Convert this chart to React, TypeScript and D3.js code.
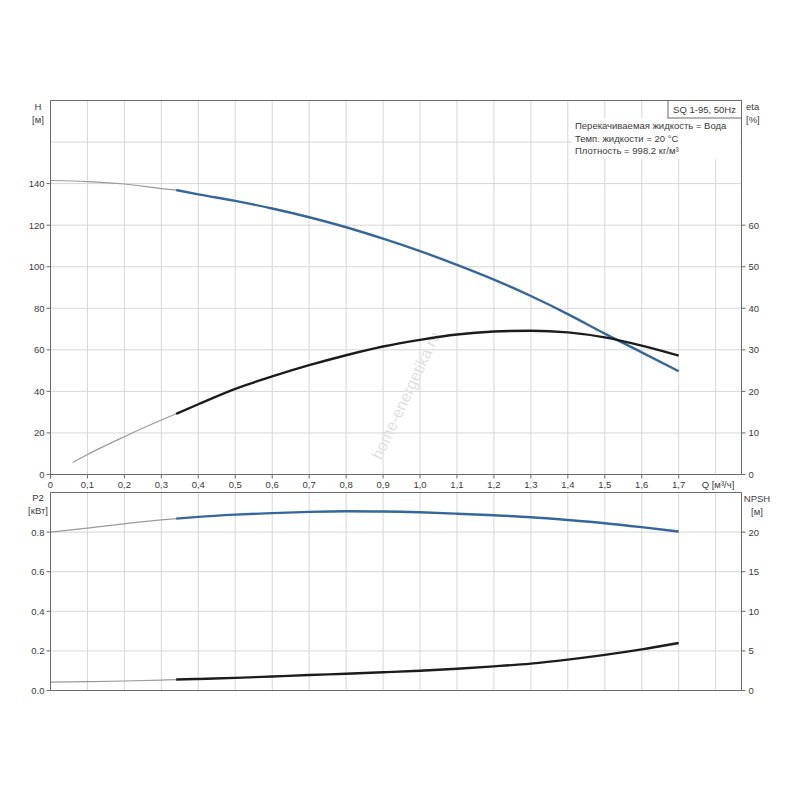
import React from "react";
import { scaleLinear, line, curveMonotoneX } from "d3";

// flow, m3/h
const qH = [0, 0.1, 0.2, 0.3, 0.34, 0.4, 0.5, 0.6, 0.7, 0.8, 0.9, 1.0, 1.1, 1.2, 1.3, 1.4, 1.5, 1.6, 1.7];
const headH = [141.5, 141.0, 139.8, 137.6, 136.9, 134.8, 131.7, 128.0, 123.8, 119.0, 113.5, 107.5, 100.9, 93.8, 85.9, 77.2, 67.8, 58.8, 49.7];

const qEta = [0.06, 0.1, 0.2, 0.3, 0.34, 0.4, 0.5, 0.6, 0.7, 0.8, 0.9, 1.0, 1.1, 1.2, 1.3, 1.4, 1.5, 1.6, 1.7];
const eta = [2.9, 4.8, 9.1, 13.1, 14.6, 16.9, 20.6, 23.6, 26.3, 28.7, 30.8, 32.4, 33.7, 34.4, 34.6, 34.2, 33.0, 31.0, 28.6];

const qP = [0, 0.1, 0.2, 0.3, 0.34, 0.4, 0.5, 0.6, 0.7, 0.8, 0.9, 1.0, 1.1, 1.2, 1.3, 1.4, 1.5, 1.6, 1.7];
const p2 = [0.8, 0.82, 0.842, 0.862, 0.868, 0.877, 0.888, 0.896, 0.902, 0.905, 0.904, 0.9, 0.893, 0.885, 0.875, 0.861, 0.845, 0.825, 0.803];
const npsh = [1.05, 1.12, 1.2, 1.32, 1.38, 1.46, 1.6, 1.77, 1.95, 2.12, 2.3, 2.5, 2.75, 3.05, 3.4, 3.9, 4.5, 5.2, 6.0];

const qTicks = [0, 0.1, 0.2, 0.3, 0.4, 0.5, 0.6, 0.7, 0.8, 0.9, 1.0, 1.1, 1.2, 1.3, 1.4, 1.5, 1.6, 1.7];
const qGrid = [0.1, 0.2, 0.3, 0.4, 0.5, 0.6, 0.7, 0.8, 0.9, 1.0, 1.1, 1.2, 1.3, 1.4, 1.5, 1.6, 1.7, 1.8];
const hTicks = [0, 20, 40, 60, 80, 100, 120, 140];
const hGrid = [20, 40, 60, 80, 100, 120, 140, 160];
const etaTicks = [0, 10, 20, 30, 40, 50, 60];
const pTicks = [0, 0.2, 0.4, 0.6, 0.8];
const npshTicks = [0, 5, 10, 15, 20];

const infoLines = ["Перекачиваемая жидкость = Вода", "Темп. жидкости = 20 °C", "Плотность = 998.2 кг/м³"];

const BLUE = "#35689a";
const BLACK = "#1c1c1c";
const THIN = "#9a9a9a";
const GRID = "#d6d6d6";
const AXIS = "#6a6a6a";
const TXT = "#3a3a3a";
const FONT = "'Liberation Sans', Arial, sans-serif";

const L = 50.5, R = 741.5;
const x = scaleLinear().domain([0, 1.87]).range([L, R]);
const yH = scaleLinear().domain([0, 180]).range([474.5, 100.5]);
const yEta = scaleLinear().domain([0, 90]).range([474.5, 100.5]);
const yP = scaleLinear().domain([0, 1.0]).range([690.5, 492.5]);
const yN = scaleLinear().domain([0, 25]).range([690.5, 492.5]);

const fmt = (v: number) => (v === 0 ? "0" : v.toFixed(1).replace(".", ","));

function pieces(qs: number[], vs: number[], y: (v: number) => number) {
  const pts = qs.map((q, i) => [q, vs[i]] as [number, number]);
  const gen = line<[number, number]>()
    .x((d) => x(d[0]))
    .y((d) => y(d[1]))
    .curve(curveMonotoneX);
  return {
    thin: gen(pts.filter((d) => d[0] <= 0.34)) ?? "",
    thick: gen(pts.filter((d) => d[0] >= 0.34)) ?? "",
  };
}

function Curve({ qs, vs, y, color }: { qs: number[]; vs: number[]; y: (v: number) => number; color: string }) {
  const p = pieces(qs, vs, y);
  return (
    <g fill="none">
      <path d={p.thin} stroke={THIN} strokeWidth={1.2} />
      <path d={p.thick} stroke={color} strokeWidth={2.4} />
    </g>
  );
}

export default function App() {
  const topY0 = yH(180), topY1 = yH(0);
  const botY0 = yP(1.0), botY1 = yP(0);
  return (
    <svg width={800} height={800} style={{ position: "absolute", left: 0, top: 0, background: "#fff" }} fontFamily={FONT}>
      {/* grid top */}
      {qGrid.map((q) => (
        <line key={"gt" + q} x1={x(q)} x2={x(q)} y1={topY0} y2={topY1} stroke={GRID} />
      ))}
      {hGrid.map((h) => (
        <line key={"gh" + h} x1={L} x2={R} y1={yH(h)} y2={yH(h)} stroke={GRID} />
      ))}
      {/* grid bottom */}
      {qGrid.map((q) => (
        <line key={"gb" + q} x1={x(q)} x2={x(q)} y1={botY0} y2={botY1} stroke={GRID} />
      ))}
      {[0.2, 0.4, 0.6, 0.8].map((p) => (
        <line key={"gp" + p} x1={L} x2={R} y1={yP(p)} y2={yP(p)} stroke={GRID} />
      ))}

      {/* info box */}
      <rect x={572} y={118} width={168} height={41} fill="#fff" />
      <rect x={668} y={100.5} width={73.5} height={17.5} fill="#fff" stroke={AXIS} />
      <text x={704.5} y={113} fontSize={9.5} textAnchor="middle" fill={TXT}>SQ 1-95, 50Hz</text>
      {infoLines.map((s, i) => (
        <text key={s} x={575} y={129 + i * 12.5} fontSize={9.5} fill={TXT}>{s}</text>
      ))}

      {/* watermark */}
      <text
        x={0}
        y={0}
        transform="translate(407,396) rotate(-64.5)"
        textAnchor="middle"
        dominantBaseline="middle"
        fontSize={16}
        fill="#e0e0e0"
      >
        home-energetika.ru
      </text>

      {/* curves */}
      <Curve qs={qH} vs={headH} y={yH} color={BLUE} />
      <Curve qs={qEta} vs={eta} y={yEta} color={BLACK} />
      <Curve qs={qP} vs={p2} y={yP} color={BLUE} />
      <Curve qs={qP} vs={npsh} y={yN} color={BLACK} />

      {/* frames */}
      <line x1={L} x2={R} y1={topY0} y2={topY0} stroke={AXIS} />
      <line x1={L} x2={R} y1={topY1} y2={topY1} stroke={AXIS} />
      <line x1={L} x2={L} y1={topY0} y2={topY1} stroke={AXIS} />
      <line x1={R} x2={R} y1={topY0} y2={topY1} stroke={AXIS} />
      <line x1={L} x2={R} y1={botY0} y2={botY0} stroke={AXIS} />
      <line x1={L} x2={R} y1={botY1} y2={botY1} stroke={AXIS} />
      <line x1={L} x2={L} y1={botY0} y2={botY1} stroke={AXIS} />
      <line x1={R} x2={R} y1={botY0} y2={botY1} stroke={AXIS} />

      {/* x ticks */}
      {qTicks.map((q) => (
        <g key={"xt" + q}>
          <line x1={x(q)} x2={x(q)} y1={topY1} y2={topY1 + 4} stroke={AXIS} />
          <text x={x(q)} y={488} fontSize={9.5} textAnchor="middle" fill={TXT}>{fmt(q)}</text>
        </g>
      ))}
      <text x={718} y={488} fontSize={9.5} textAnchor="middle" fill={TXT}>Q [м³/ч]</text>

      {/* left H axis */}
      {hTicks.map((h) => (
        <g key={"ht" + h}>
          <line x1={L - 4} x2={L} y1={yH(h)} y2={yH(h)} stroke={AXIS} />
          <text x={L - 6} y={yH(h) + 3.5} fontSize={9.5} textAnchor="end" fill={TXT}>{h}</text>
        </g>
      ))}
      <text x={38} y={110} fontSize={9.5} textAnchor="middle" fill={TXT}>H</text>
      <text x={38} y={123} fontSize={9.5} textAnchor="middle" fill={TXT}>[м]</text>

      {/* right eta axis */}
      {etaTicks.map((e) => (
        <g key={"et" + e}>
          <line x1={R} x2={R + 4} y1={yEta(e)} y2={yEta(e)} stroke={AXIS} />
          <text x={R + 7} y={yEta(e) + 3.5} fontSize={9.5} fill={TXT}>{e}</text>
        </g>
      ))}
      <text x={746} y={110} fontSize={9.5} fill={TXT}>eta</text>
      <text x={746} y={123} fontSize={9.5} fill={TXT}>[%]</text>

      {/* bottom left P2 axis */}
      {pTicks.map((p) => (
        <g key={"pt" + p}>
          <line x1={L - 4} x2={L} y1={yP(p)} y2={yP(p)} stroke={AXIS} />
          <text x={L - 6} y={yP(p) + 3.5} fontSize={9.5} textAnchor="end" fill={TXT}>{p.toFixed(1)}</text>
        </g>
      ))}
      <text x={38} y={501} fontSize={9.5} textAnchor="middle" fill={TXT}>P2</text>
      <text x={38} y={514} fontSize={9.5} textAnchor="middle" fill={TXT}>[кВт]</text>

      {/* bottom right NPSH axis */}
      {npshTicks.map((n) => (
        <g key={"nt" + n}>
          <line x1={R} x2={R + 4} y1={yN(n)} y2={yN(n)} stroke={AXIS} />
          <text x={R + 7} y={yN(n) + 3.5} fontSize={9.5} fill={TXT}>{n}</text>
        </g>
      ))}
      <text x={757} y={502} fontSize={9.5} textAnchor="middle" fill={TXT}>NPSH</text>
      <text x={757} y={515} fontSize={9.5} textAnchor="middle" fill={TXT}>[м]</text>
    </svg>
  );
}
